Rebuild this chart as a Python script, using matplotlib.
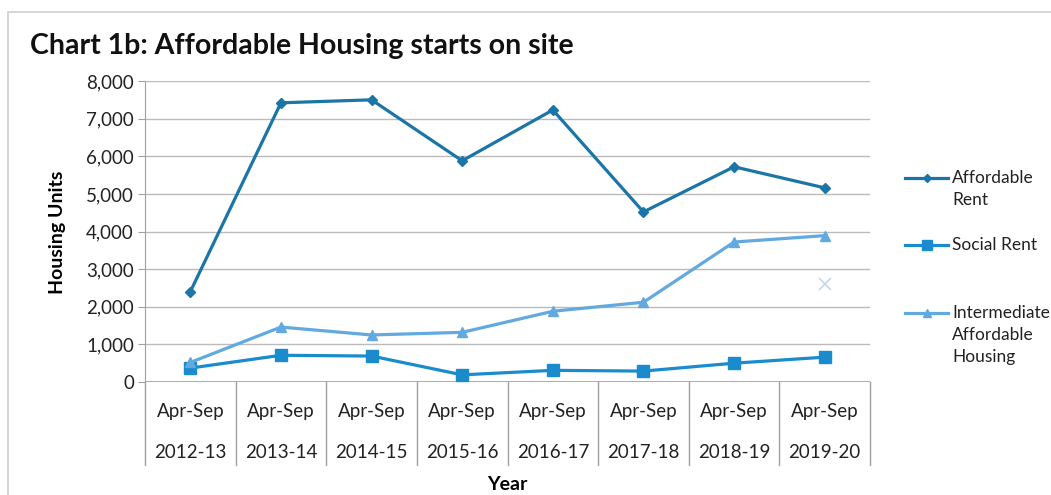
import matplotlib
matplotlib.use("Agg")
import matplotlib.pyplot as plt
from matplotlib.patches import Rectangle
from matplotlib.lines import Line2D
from matplotlib.ticker import FuncFormatter

plt.rcParams['font.family'] = ['Lato', 'DejaVu Sans']

periods = ["Apr-Sep"] * 8
years = ["2012-13", "2013-14", "2014-15", "2015-16", "2016-17", "2017-18", "2018-19", "2019-20"]
affordable_rent = [2400, 7420, 7500, 5880, 7230, 4520, 5720, 5160]
social_rent = [370, 710, 690, 190, 310, 290, 500, 660]
intermediate = [520, 1460, 1250, 1320, 1880, 2120, 3720, 3890]
extra_x_index = [7]
extra_x_value = [2600]
legend_labels = ["Affordable\nRent", "Social Rent", "Intermediate\nAffordable\nHousing"]

W, H = 1051, 495
fig = plt.figure(figsize=(W / 100, H / 100), dpi=100)
fig.patch.set_facecolor('white')

# outer chart frame
fig.patches.append(Rectangle((8 / W, -0.1), 1.2, 1 - 12 / H + 0.1, transform=fig.transFigure,
                             fill=False, edgecolor='#D0D0D0', linewidth=1.2))

left, right, top, bottom = 145 / W, 870 / W, 81 / H, 382 / H
ax = fig.add_axes([left, 1 - bottom, right - left, bottom - top])

x = list(range(len(years)))
c_ar = '#1B75A6'
c_sr = '#1A8BCD'
c_ih = '#62A9DF'
styles = [dict(color=c_ar, marker='D', ms=5),
          dict(color=c_sr, marker='s', ms=8.5),
          dict(color=c_ih, marker='^', ms=7.5)]

for vals, st in zip([affordable_rent, social_rent, intermediate], styles):
    ax.plot(x, vals, lw=2.3, zorder=4, **st)
ax.plot(extra_x_index, extra_x_value, linestyle='none', marker='x', ms=8, mew=1.2, color='#C8D8E8', zorder=3)

ax.set_xlim(-0.5, 7.5)
ax.set_ylim(0, 8000)
ax.set_yticks(range(0, 8001, 1000))
ax.yaxis.set_major_formatter(FuncFormatter(lambda v, p: f"{int(v):,}"))
ax.grid(axis='y', color='#BBBBBB', lw=1.0)
ax.set_axisbelow(True)
for s in ['top', 'right', 'bottom']:
    ax.spines[s].set_visible(False)
ax.spines['left'].set_color('#A0A0A0')
ax.tick_params(axis='y', length=5, color='#A0A0A0', labelsize=13.5, pad=3, labelcolor='#222222')
ax.set_xticks([])

ax.axhline(0, color='#A0A0A0', lw=1.2, zorder=2)

# table-style category axis
trans = ax.get_xaxis_transform()
ax_h_px = bottom * H - top * H
def ypx(py):
    return (bottom * H - py) / ax_h_px

for b in [i + 0.5 for i in range(-1, 8)]:
    ax.plot([b, b], [0, ypx(465)], transform=trans, color='#A0A0A0', lw=1.0, clip_on=False)
for i, (p, yr) in enumerate(zip(periods, years)):
    ax.text(i, ypx(411), p, transform=trans, ha='center', va='center', fontsize=13.5, color='#222222')
    ax.text(i, ypx(452), yr, transform=trans, ha='center', va='center', fontsize=13.5, color='#222222')

fig.text(507 / W, 1 - 484 / H, 'Year', ha='center', va='center', fontsize=14, fontweight='bold')
fig.text(57 / W, 1 - 232 / H, 'Housing Units', ha='center', va='center', rotation=90,
         fontsize=14, fontweight='bold')
fig.text(30 / W, 1 - 46 / H, 'Chart 1b: Affordable Housing starts on site', ha='left', va='center',
         fontsize=20.5, fontweight='bold', color='#111111')

# legend (manually placed)
leg_y = [178, 245, 313]
for yy, st, lab in zip(leg_y, styles, legend_labels):
    fy = 1 - yy / H
    fig.add_artist(Line2D([905 / W, 948 / W], [fy, fy], transform=fig.transFigure, lw=2.3,
                          color=st['color']))
    fig.add_artist(Line2D([926.5 / W], [fy], transform=fig.transFigure, linestyle='none',
                          marker=st['marker'], ms=st['ms'] * 0.8, color=st['color']))
    for k, line in enumerate(lab.split("\n")):
        fig.text(952 / W, 1 - (yy + 22 * k) / H, line, ha='left', va='center', fontsize=12.5,
                 color='#222222')

fig.savefig('out.png', dpi=100)
